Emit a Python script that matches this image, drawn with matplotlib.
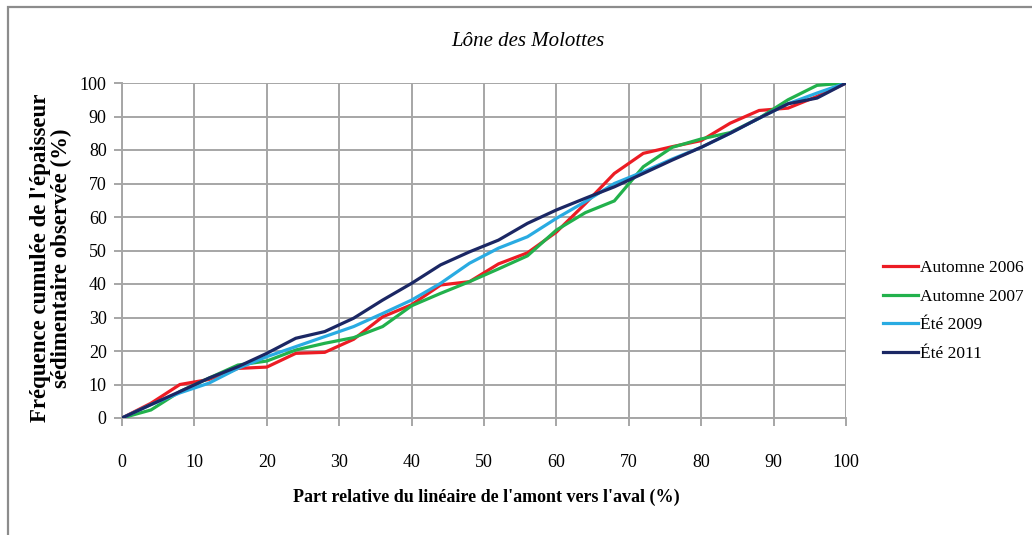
import matplotlib
matplotlib.use("Agg")
import matplotlib.pyplot as plt
from matplotlib.patches import Rectangle

# Part relative du linéaire (%) : un point tous les 4 %
x_part = list(range(0, 101, 4))

automne_2006 = [0, 4.4, 10.0, 11.5, 14.8, 15.2, 19.3, 19.6, 23.5, 30.2, 33.8, 39.7, 40.7,
                46.0, 49.3, 55.5, 64.0, 73.0, 79.0, 81.0, 82.8, 88.0, 91.8, 92.5, 96.0, 100]
automne_2007 = [0, 2.4, 7.9, 11.9, 15.8, 17.0, 20.3, 22.3, 24.0, 27.3, 33.5, 37.2, 40.7,
                44.5, 48.4, 56.1, 61.3, 64.8, 75.0, 80.8, 83.3, 85.2, 89.5, 95.0, 99.3, 100]
ete_2009 = [0, 4.0, 7.5, 10.4, 14.8, 18.3, 21.3, 24.3, 27.3, 31.2, 35.2, 40.2, 46.2,
            50.7, 54.1, 59.6, 64.6, 70.0, 73.5, 77.3, 80.8, 85.0, 89.5, 93.8, 97.0, 100]
ete_2011 = [0, 4.0, 7.9, 11.9, 15.3, 19.3, 23.8, 25.8, 29.8, 35.2, 40.2, 45.7, 49.6,
            53.1, 58.1, 62.1, 65.6, 69.0, 73.0, 77.0, 80.8, 85.0, 89.5, 93.8, 95.5, 100]

series = [
    ("Automne 2006", automne_2006, "#ec1c24"),
    ("Automne 2007", automne_2007, "#22b14c"),
    ("Été 2009", ete_2009, "#29abe2"),
    ("Été 2011", ete_2011, "#1b2764"),
]

x_ticks = list(range(0, 101, 10))
y_ticks = list(range(0, 101, 10))

title = "Lône des Molottes"
x_label = "Part relative du linéaire de l'amont vers l'aval (%)"
y_label = "Fréquence cumulée de l'épaisseur\nsédimentaire observée (%)"

plt.rcParams["font.family"] = ["Liberation Serif", "DejaVu Serif"]

W, H = 1032, 535
fig = plt.figure(figsize=(W / 100, H / 100), dpi=100)
fig.patch.set_facecolor("white")

# cadre extérieur du graphique
fig.patches.append(Rectangle((8 / W, -0.05), 1.1, 1 - 7 / H + 0.05,
                             transform=fig.transFigure, fill=False,
                             edgecolor="#8c8c8c", linewidth=1.6))

ax = fig.add_axes([122 / W, 1 - 418 / H, (846 - 122) / W, (418 - 83) / H])

grid_col = "#a6a6a6"
for name, vals, col in series:
    ax.plot(x_part, vals, color=col, linewidth=2.3, label=name, solid_joinstyle="miter", zorder=3)

ax.set_xlim(0, 100)
ax.set_ylim(0, 100)
ax.set_xticks(x_ticks)
ax.set_yticks(y_ticks)
ax.grid(True, color=grid_col, linewidth=1.4)
ax.set_axisbelow(True)
for side in ("top", "right"):
    ax.spines[side].set_visible(False)
for side in ("left", "bottom"):
    ax.spines[side].set_color(grid_col)
    ax.spines[side].set_linewidth(1.4)
ax.tick_params(axis="both", colors=grid_col, length=6, width=1.4, direction="out")
ax.tick_params(axis="x", pad=20, labelcolor="black", labelsize=13)
ax.tick_params(axis="y", pad=5, labelcolor="black", labelsize=13)

fig.text(528 / W, 1 - 42 / H, title, ha="center", va="center",
         fontsize=15, style="italic")
fig.text(486 / W, 1 - 497 / H, x_label, ha="center", va="center",
         fontsize=13, fontweight="bold")
fig.text(51 / W, 1 - 258 / H, y_label, ha="center", va="center",
         rotation=90, fontsize=16.5, fontweight="bold", linespacing=1.0)

ax.legend(loc="center left", bbox_to_anchor=((883 - 122) / 724, (418 - 311) / 335),
          frameon=False, borderpad=0, borderaxespad=0,
          fontsize=12.5, handlelength=2.0, handletextpad=0.15, labelspacing=0.72)

fig.savefig("out.png", dpi=100, facecolor="white")
